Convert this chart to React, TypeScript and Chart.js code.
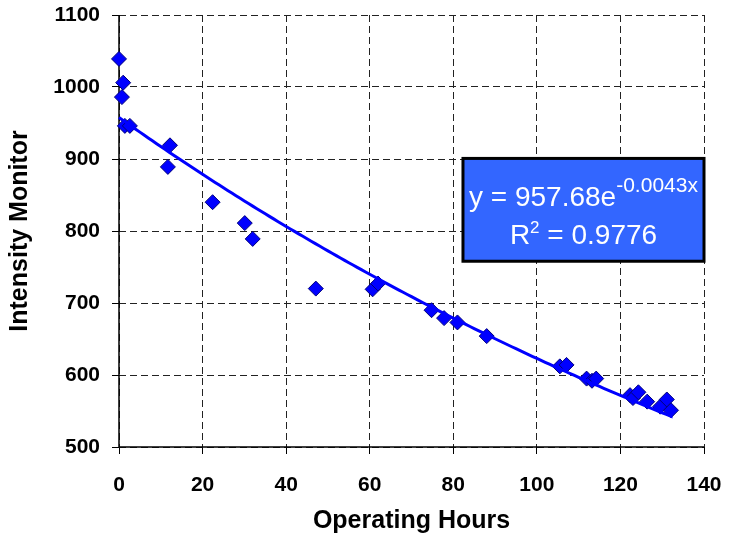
import React, { useEffect, useRef } from "react";
import { Chart, registerables } from "chart.js";

Chart.register(...registerables);

// Measured samples: operating hours vs. intensity monitor reading
const hours = [
  0, 1.0, 0.7, 1.4, 2.6, 12.2, 11.7, 22.4, 30.1, 32.0,
  47.1, 60.7, 62.0, 74.8, 77.8, 81.0, 88.0, 105.5, 107.1, 111.9,
  113.2, 114.2, 122.3, 123.0, 124.3, 126.4, 129.5, 131.1, 132.1,
];
const intensity = [
  1039, 1006, 986, 946, 946, 919, 889, 840, 811, 789,
  720, 719, 727, 690, 679, 673, 654, 612, 614, 595,
  592, 595, 572, 568, 576, 563, 556, 566, 551,
];

// Exponential fit reported in the label: y = A * e^(k x)
const fitA = 957.68;
const fitK = -0.0043;
const fitR2 = 0.9776;

const xTicks = [0, 20, 40, 60, 80, 100, 120, 140];
const yTicks = [500, 600, 700, 800, 900, 1000, 1100];

const FONT = '"Liberation Sans", Arial, Helvetica, sans-serif';

// Solid left and bottom axis lines (grid lines themselves are dashed)
const solidAxes = {
  id: "solidAxes",
  beforeDatasetsDraw(chart: any) {
    const { ctx, chartArea } = chart;
    ctx.save();
    ctx.strokeStyle = "#000";
    ctx.lineWidth = 1.5;
    ctx.setLineDash([]);
    ctx.beginPath();
    ctx.moveTo(chartArea.left, chartArea.top);
    ctx.lineTo(chartArea.left, chartArea.bottom);
    ctx.lineTo(chartArea.right, chartArea.bottom);
    ctx.stroke();
    ctx.restore();
  },
};

const equationBox = {
  id: "equationBox",
  afterDraw(chart: any) {
    const { ctx, chartArea } = chart;
    const w = chartArea.right - chartArea.left;
    const h = chartArea.bottom - chartArea.top;
    const left = chartArea.left + w * 0.588;
    const right = chartArea.right;
    const top = chartArea.top + h * 0.332;
    const bottom = chartArea.top + h * 0.57;
    ctx.save();
    ctx.fillStyle = "#3366FF";
    ctx.fillRect(left, top, right - left, bottom - top);
    ctx.lineWidth = 3;
    ctx.strokeStyle = "#000000";
    ctx.strokeRect(left, top, right - left, bottom - top);

    ctx.fillStyle = "#FFFFFF";
    ctx.textBaseline = "alphabetic";
    ctx.textAlign = "left";
    const cx = (left + right) / 2;

    // Line 1: y = A e^(k x)
    const main1 = `y = ${fitA.toFixed(2)}e`;
    const sup1 = `${fitK.toFixed(4)}x`;
    ctx.font = `28px ${FONT}`;
    const wMain1 = ctx.measureText(main1).width;
    ctx.font = `21px ${FONT}`;
    const wSup1 = ctx.measureText(sup1).width;
    const x1 = cx - (wMain1 + wSup1) / 2;
    const base1 = top + 48;
    ctx.font = `28px ${FONT}`;
    ctx.fillText(main1, x1, base1);
    ctx.font = `21px ${FONT}`;
    ctx.fillText(sup1, x1 + wMain1, base1 - 14);

    // Line 2: R^2 = value
    const r = "R";
    const sup2 = "2";
    const rest = ` = ${fitR2.toFixed(4)}`;
    ctx.font = `28px ${FONT}`;
    const wR = ctx.measureText(r).width;
    const wRest = ctx.measureText(rest).width;
    ctx.font = `17px ${FONT}`;
    const wSup2 = ctx.measureText(sup2).width;
    const x2 = cx - (wR + wSup2 + wRest) / 2;
    const base2 = top + 86;
    ctx.font = `28px ${FONT}`;
    ctx.fillText(r, x2, base2);
    ctx.font = `17px ${FONT}`;
    ctx.fillText(sup2, x2 + wR, base2 - 11);
    ctx.font = `28px ${FONT}`;
    ctx.fillText(rest, x2 + wR + wSup2, base2);
    ctx.restore();
  },
};

export default function App() {
  const canvasRef = useRef<HTMLCanvasElement | null>(null);

  useEffect(() => {
    const canvas = canvasRef.current;
    if (!canvas) return;

    const points = hours.map((x, i) => ({ x, y: intensity[i] }));
    const xMax = Math.max(...hours);
    const trend: { x: number; y: number }[] = [];
    for (let x = 0; x <= xMax; x += 1) trend.push({ x, y: fitA * Math.exp(fitK * x) });
    trend.push({ x: xMax, y: fitA * Math.exp(fitK * xMax) });

    const chart = new Chart(canvas, {
      type: "scatter",
      data: {
        datasets: [
          {
            type: "line",
            label: "Expon. fit",
            data: trend,
            borderColor: "#0000FF",
            borderWidth: 3,
            pointRadius: 0,
            fill: false,
            tension: 0,
            clip: false,
            order: 0,
          },
          {
            label: "Intensity Monitor",
            data: points,
            pointStyle: "rectRot",
            pointRadius: 7.5,
            pointBackgroundColor: "#0000FF",
            pointBorderColor: "#00007A",
            pointBorderWidth: 1,
            clip: false,
            order: 1,
          },
        ],
      },
      options: {
        responsive: false,
        animation: false,
        layout: { padding: { top: 15, right: 25, left: 0, bottom: 0 } },
        plugins: {
          legend: { display: false },
          tooltip: { enabled: false },
        },
        scales: {
          x: {
            type: "linear",
            min: xTicks[0],
            max: xTicks[xTicks.length - 1],
            afterBuildTicks: (scale: any) => {
              scale.ticks = xTicks.map((v) => ({ value: v }));
            },
            afterFit: (scale: any) => {
              scale.height = 92;
              scale.paddingLeft = 0;
              scale.paddingRight = 0;
            },
            ticks: {
              color: "#000",
              font: { family: FONT, size: 21, weight: "bold" },
              padding: 19,
              maxRotation: 0,
              callback: (v: any) => String(v),
            },
            grid: {
              color: "#222",
              lineWidth: 1,
              tickLength: 7,
              tickColor: "#000",
              tickBorderDash: [],
            },
            border: { display: false, dash: [7, 4] },
            title: {
              display: true,
              text: "Operating Hours",
              color: "#000",
              font: { family: FONT, size: 25, weight: "bold" },
              padding: { top: 0, bottom: 3 },
            },
          },
          y: {
            type: "linear",
            min: yTicks[0],
            max: yTicks[yTicks.length - 1],
            afterBuildTicks: (scale: any) => {
              scale.ticks = yTicks.map((v) => ({ value: v }));
            },
            afterFit: (scale: any) => {
              scale.width = 119;
              scale.paddingTop = 0;
              scale.paddingBottom = 0;
            },
            ticks: {
              color: "#000",
              font: { family: FONT, size: 21, weight: "bold" },
              padding: 12,
              callback: (v: any) => String(v),
            },
            grid: {
              color: "#222",
              lineWidth: 1,
              tickLength: 7,
              tickColor: "#000",
              tickBorderDash: [],
            },
            border: { display: false, dash: [7, 4] },
            title: {
              display: true,
              text: "Intensity Monitor",
              color: "#000",
              font: { family: FONT, size: 25, weight: "bold" },
              padding: { top: 5, bottom: 0 },
            },
          },
        },
      },
      plugins: [solidAxes, equationBox],
    });

    return () => chart.destroy();
  }, []);

  return (
    <div style={{ position: "fixed", left: 0, top: 0, width: 729, height: 539, background: "#fff" }}>
      <canvas ref={canvasRef} width={729} height={539} />
    </div>
  );
}
